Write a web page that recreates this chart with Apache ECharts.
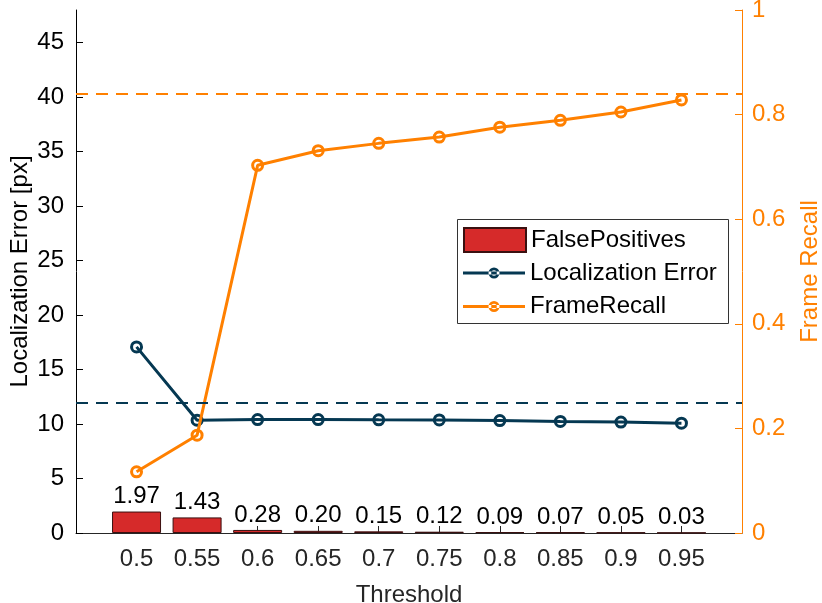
<!DOCTYPE html>
<html>
<head>
<meta charset="utf-8">
<script src="https://cdn.jsdelivr.net/npm/echarts@6.0.0/dist/echarts.min.js"></script>
<style>
  html, body { margin: 0; padding: 0; background: #fff; }
  #chart { width: 822px; height: 603px; }
</style>
</head>
<body>
<div id="chart"></div>
<script>
// ===== data =====
const thresholds = [0.5, 0.55, 0.6, 0.65, 0.7, 0.75, 0.8, 0.85, 0.9, 0.95];
const falsePositives = [1.97, 1.43, 0.28, 0.20, 0.15, 0.12, 0.09, 0.07, 0.05, 0.03];
const locError = [17.08, 10.35, 10.41, 10.41, 10.39, 10.38, 10.32, 10.24, 10.18, 10.08];
const frameRecall = [0.117, 0.187, 0.703, 0.731, 0.745, 0.757, 0.776, 0.789, 0.805, 0.828];
const locErrorRef = 12;
const frameRecallRef = 0.836;

const leftTicks = [0, 5, 10, 15, 20, 25, 30, 35, 40, 45];
const rightTicks = [0, 0.2, 0.4, 0.6, 0.8, 1];

// ===== styles =====
const COLORS = {
    red: '#d62a2a',
    navy: '#053852',
    orange: '#ff8000',
    black: '#000000',
    gray: '#262626'
};
const FONT = 'Liberation Sans';
const FS = 24;

// legend glyph for line+marker: a 3px line with a hollow ring in the middle (62x11 box)
const LINE_MARKER_ICON = 'path://M0 4H62V7H0Z'
    + 'M36.5 5.5A5.5 5.5 0 1 0 25.5 5.5A5.5 5.5 0 1 0 36.5 5.5Z'
    + 'M33.8 5.5A2.8 2.8 0 1 1 28.2 5.5A2.8 2.8 0 1 1 33.8 5.5Z';

const pair = arr => thresholds.map((t, i) => [t, arr[i]]);

const chart = echarts.init(document.getElementById('chart'));

const option = {
    animation: false,
    backgroundColor: '#fff',
    textStyle: { fontFamily: FONT },
    grid: { left: 76, right: 80, top: 10, bottom: 70, outerBoundsMode: 'none', containLabel: false },
    legend: [
        {
            data: [{ name: 'FalsePositives', icon: 'rect' }],
            left: 463, top: 227,
            itemWidth: 62, itemHeight: 24, itemGap: 6,
            padding: 0, z: 20,
            textStyle: { fontSize: FS, color: COLORS.black, fontFamily: FONT }
        },
        {
            data: [
                { name: 'Localization Error', icon: LINE_MARKER_ICON, itemStyle: { color: COLORS.navy, borderWidth: 0 } },
                { name: 'FrameRecall', icon: LINE_MARKER_ICON, itemStyle: { color: COLORS.orange, borderWidth: 0 } }
            ],
            orient: 'vertical',
            left: 463, top: 261,
            itemWidth: 62, itemHeight: 11, itemGap: 9.5,
            padding: 0, z: 20,
            textStyle: { fontSize: FS, color: COLORS.black, fontFamily: FONT }
        }
    ],
    graphic: [{
        type: 'rect',
        left: 457, top: 219,
        shape: { width: 271, height: 104 },
        style: { fill: '#fff', stroke: '#333', lineWidth: 1 },
        z: 10
    }],
    xAxis: {
        type: 'value',
        min: 0.45, max: 1.0,
        name: 'Threshold',
        nameLocation: 'middle',
        nameGap: 50,
        nameTextStyle: { fontSize: FS, color: COLORS.gray, fontFamily: FONT },
        axisLine: { lineStyle: { color: COLORS.gray, width: 1 } },
        axisTick: { inside: true, length: 7, customValues: thresholds, lineStyle: { color: COLORS.gray } },
        axisLabel: {
            customValues: thresholds,
            margin: 14,
            fontSize: FS, color: COLORS.gray, fontFamily: FONT,
            formatter: v => String(Number(v.toFixed(2)))
        },
        splitLine: { show: false }
    },
    yAxis: [
        {
            type: 'value',
            min: 0, max: 48,
            position: 'left',
            name: 'Localization Error [px]',
            nameLocation: 'middle',
            nameRotate: 90,
            nameGap: 44,
            nameMoveOverlap: false,
            nameTextStyle: { fontSize: FS, color: COLORS.black, fontFamily: FONT },
            axisLine: { show: true, lineStyle: { color: COLORS.black, width: 1 } },
            axisTick: { show: true, inside: true, length: 7, customValues: leftTicks, lineStyle: { color: COLORS.black } },
            axisLabel: {
                customValues: leftTicks,
                margin: 12,
                fontSize: FS, color: COLORS.black, fontFamily: FONT
            },
            splitLine: { show: false }
        },
        {
            type: 'value',
            min: 0, max: 1,
            position: 'right',
            name: 'Frame Recall',
            nameLocation: 'middle',
            nameRotate: 90,
            nameGap: 56,
            nameMoveOverlap: false,
            nameTextStyle: { fontSize: FS, color: COLORS.orange, fontFamily: FONT },
            axisLine: { show: true, lineStyle: { color: COLORS.orange, width: 1 } },
            axisTick: { show: true, inside: true, length: 7, customValues: rightTicks, lineStyle: { color: COLORS.orange } },
            axisLabel: {
                customValues: rightTicks,
                margin: 10,
                fontSize: FS, color: COLORS.orange, fontFamily: FONT,
                formatter: v => String(Number(v.toFixed(1)))
            },
            splitLine: { show: false }
        }
    ],
    series: [
        {
            name: 'FalsePositives',
            type: 'bar',
            yAxisIndex: 0,
            data: pair(falsePositives),
            barWidth: 49,
            itemStyle: { color: COLORS.red, borderColor: '#3a1010', borderWidth: 1 },
            label: {
                show: true,
                position: 'top',
                distance: 3,
                fontSize: FS, color: COLORS.black, fontFamily: FONT,
                formatter: p => p.value[1].toFixed(2)
            },
            z: 2
        },
        {
            name: 'Localization Error',
            type: 'line',
            yAxisIndex: 0,
            data: pair(locError),
            symbol: 'circle',
            symbolSize: 10,
            lineStyle: { color: COLORS.navy, width: 3 },
            itemStyle: { color: 'rgba(255,255,255,0)', borderColor: COLORS.navy, borderWidth: 3 },
            markLine: {
                silent: true,
                symbol: ['none', 'none'],
                label: { show: false },
                lineStyle: { color: COLORS.navy, type: [12, 8], width: 2 },
                data: [{ yAxis: locErrorRef }]
            },
            z: 3
        },
        {
            name: 'FrameRecall',
            type: 'line',
            yAxisIndex: 1,
            data: pair(frameRecall),
            symbol: 'circle',
            symbolSize: 10,
            lineStyle: { color: COLORS.orange, width: 3 },
            itemStyle: { color: 'rgba(255,255,255,0)', borderColor: COLORS.orange, borderWidth: 3 },
            markLine: {
                silent: true,
                symbol: ['none', 'none'],
                label: { show: false },
                lineStyle: { color: COLORS.orange, type: [12, 8], width: 2 },
                data: [{ yAxis: frameRecallRef }]
            },
            z: 4
        }
    ]
};

chart.setOption(option);
</script>
</body>
</html>
